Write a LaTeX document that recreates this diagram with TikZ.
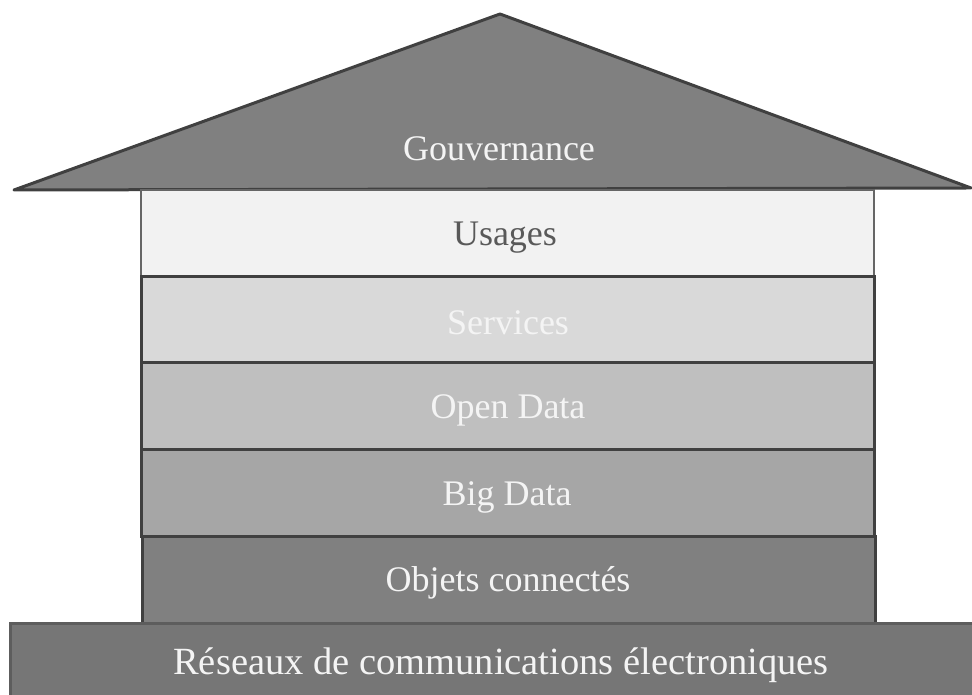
\documentclass[tikz,border=0pt]{standalone}
\usepackage{fontspec}
\setmainfont{Liberation Serif}
\definecolor{roofc}{HTML}{808080}
\definecolor{edgec}{HTML}{404040}
\definecolor{usc}{HTML}{F2F2F2}
\definecolor{svc}{HTML}{D9D9D9}
\definecolor{odc}{HTML}{BFBFBF}
\definecolor{bdc}{HTML}{A6A6A6}
\definecolor{occ}{HTML}{808080}
\definecolor{rsc}{HTML}{767676}
\definecolor{darktext}{HTML}{595959}
\definecolor{lighttext}{HTML}{F4F4F4}
\begin{document}
\begin{tikzpicture}[x=1pt,y=1pt,
  layer/.style={draw=edgec,line width=3pt},
  lbl/.style={font=\fontsize{36}{40}\selectfont,text=lighttext,inner sep=0pt}]
\useasboundingbox (0,0) rectangle (972,695);
% roof
\draw[layer,fill=roofc,line join=round] (14,505) -- (500,681) -- (971,507) -- cycle;
% layers
\draw[layer,line width=2.5pt,draw=edgec!80,fill=usc] (141,418) rectangle (874,505);
\draw[layer,fill=svc] (141,332) rectangle (874,418);
\draw[layer,fill=odc] (141,245) rectangle (874,332);
\draw[layer,fill=bdc] (141,158) rectangle (874,245);
\draw[layer,fill=occ] (142,71) rectangle (875,158);
\draw[layer,draw=edgec!85,fill=rsc] (10,-3) rectangle (975,71);
% labels
\node[lbl] (gov) at (499,546) {Gouvernance};
\node[lbl,text=darktext] (usa) at (505,457) {Usages};
\node[lbl] (ser) at (508,372) {Services};
\node[lbl] (opd) at (508,285) {Open Data};
\node[lbl] (bgd) at (507,198) {Big Data};
\node[lbl] (obj) at (508,112) {Objets connectés};
\node[lbl,font=\fontsize{38.5}{42}\selectfont] (res) at (501,30) {Réseaux de communications électroniques};
\end{tikzpicture}
\end{document}
